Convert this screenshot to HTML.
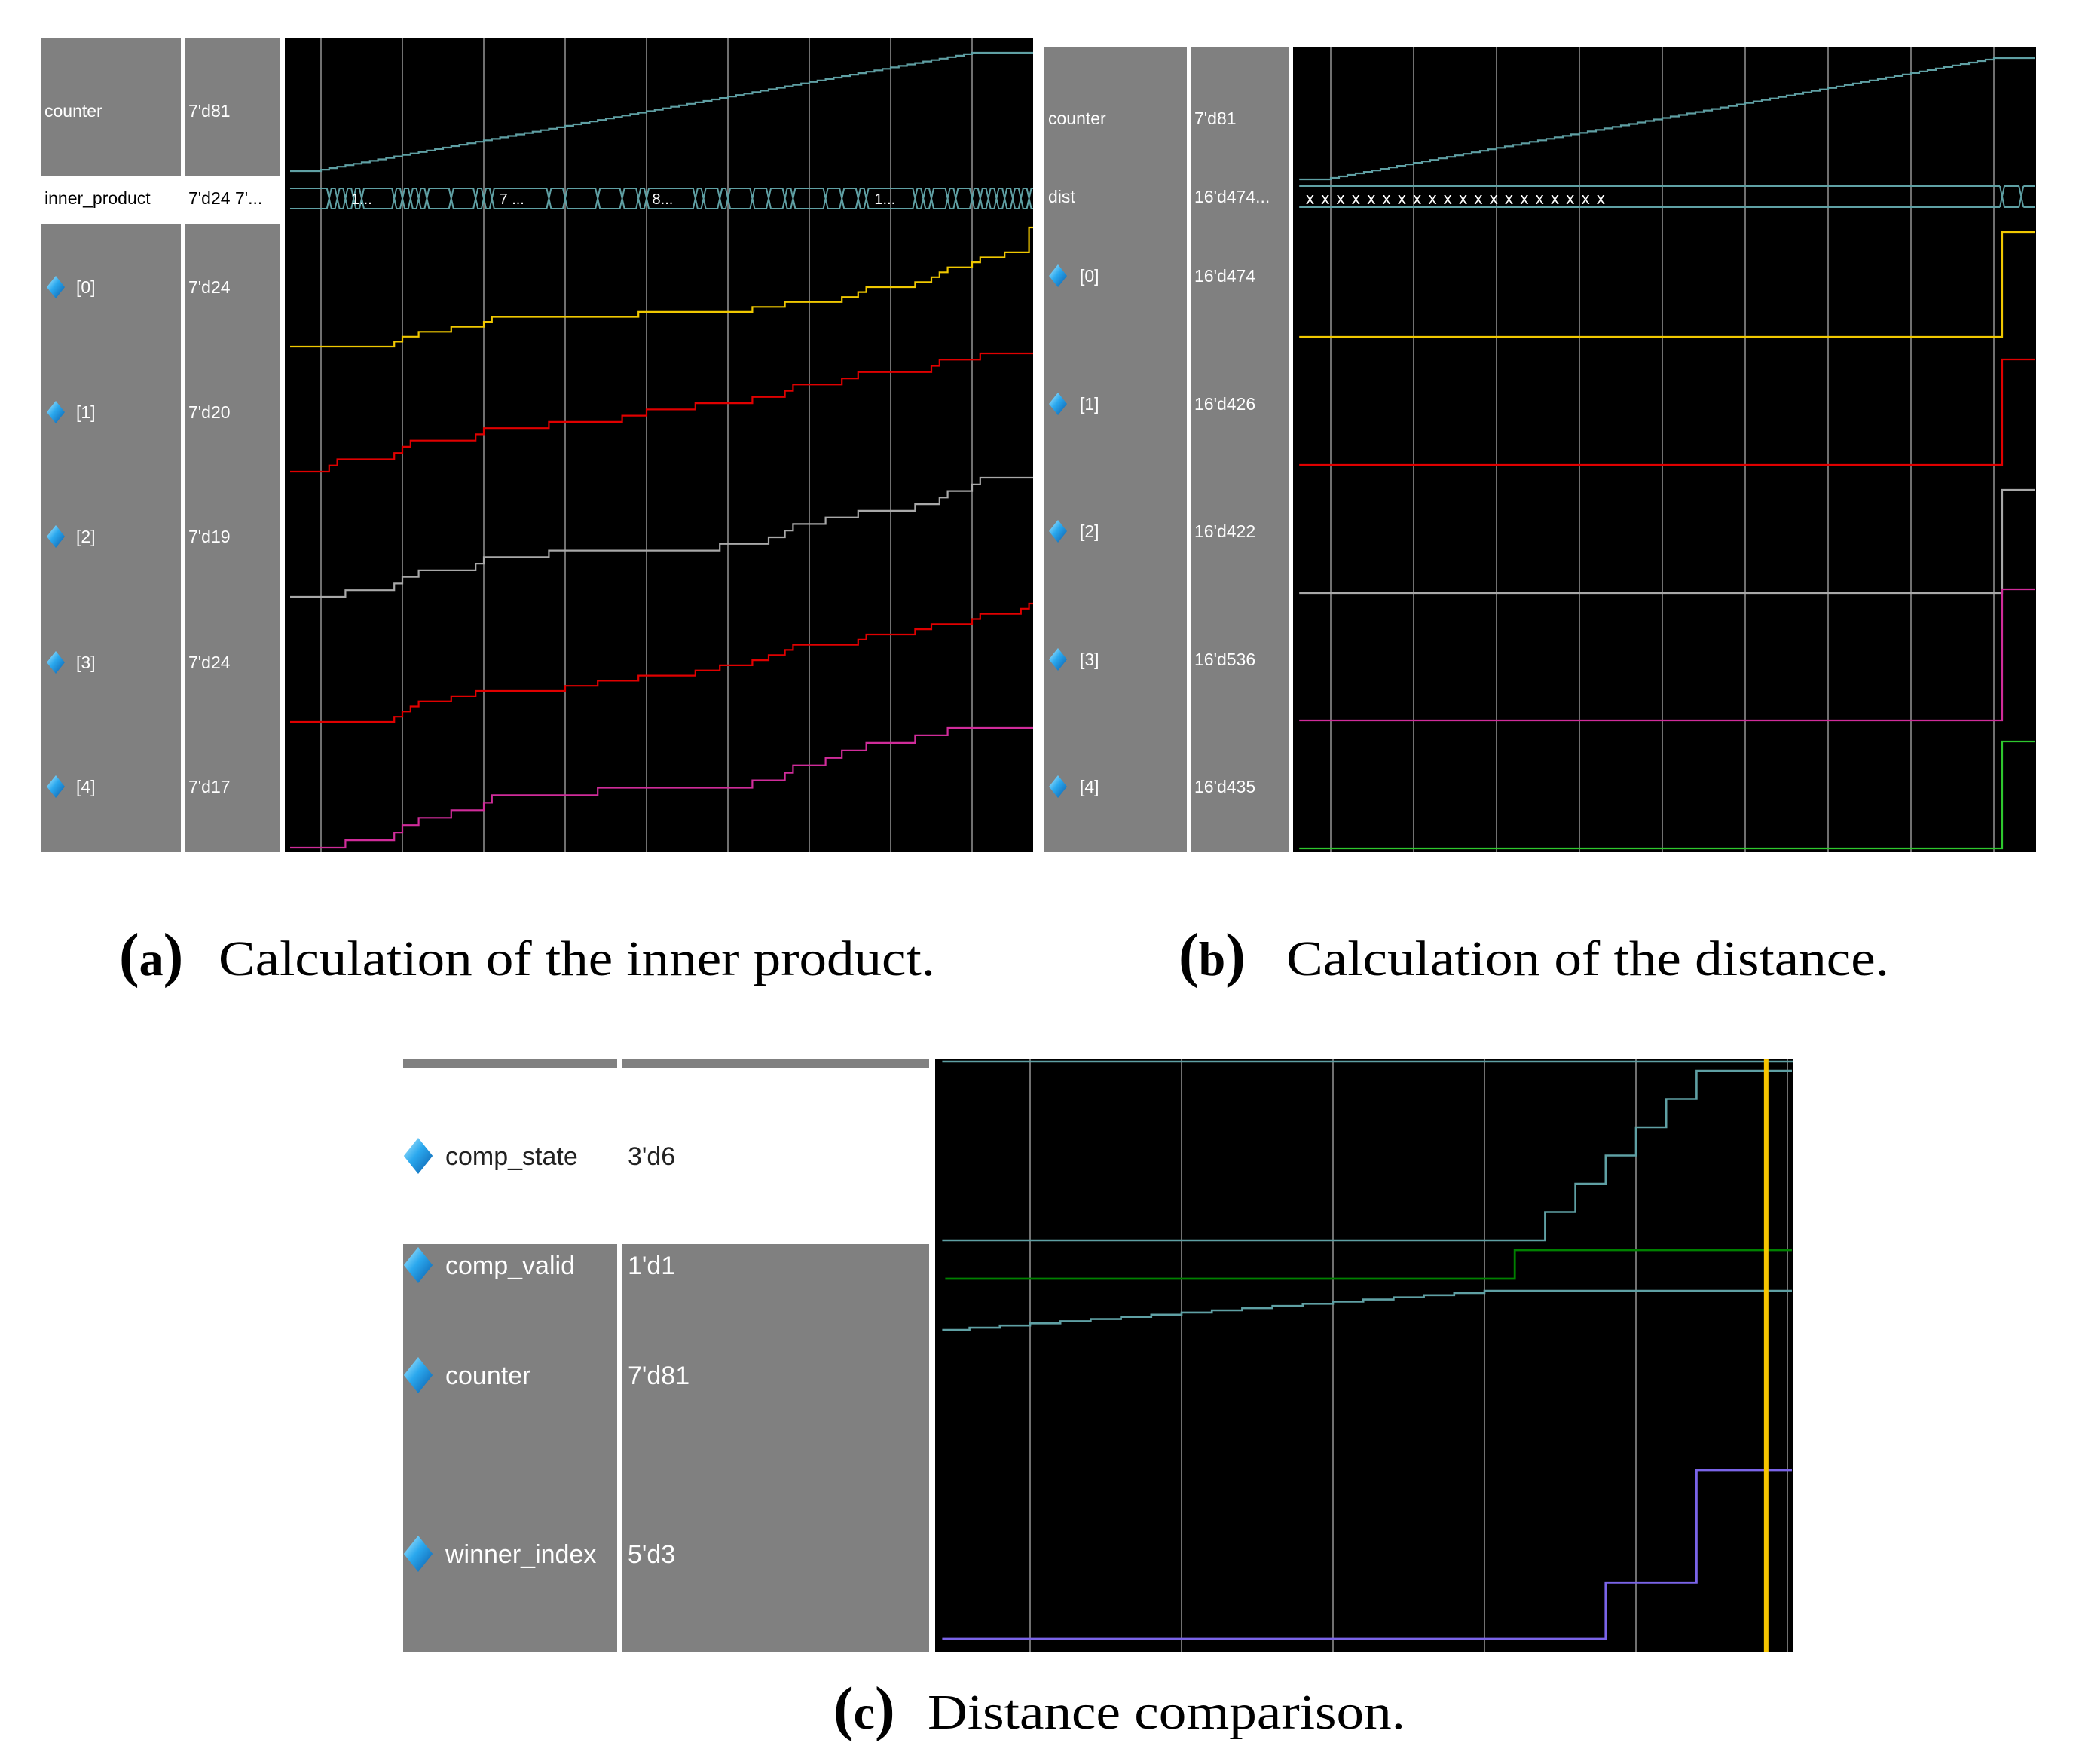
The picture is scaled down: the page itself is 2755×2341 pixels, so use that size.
<!DOCTYPE html>
<html><head><meta charset="utf-8"><title>Waveforms</title>
<style>
html,body{margin:0;padding:0;background:#fff;}
svg{display:block;}
</style></head>
<body>
<svg id="fig" width="2755" height="2341" viewBox="0 0 2755 2341" xmlns="http://www.w3.org/2000/svg" font-family="'Liberation Sans', 'DejaVu Sans', sans-serif">
  <defs>
    <linearGradient id="dia" x1="0" y1="0" x2="1" y2="1">
      <stop offset="0" stop-color="#bff0ff"/>
      <stop offset="0.45" stop-color="#2aa8ee"/>
      <stop offset="1" stop-color="#0a5aa8"/>
    </linearGradient>
  </defs>
  <rect x="54" y="50" width="186" height="1081" fill="#808080"/>
  <rect x="245" y="50" width="126" height="1081" fill="#808080"/>
  <rect x="54" y="233" width="186" height="64" fill="#ffffff"/>
  <rect x="245" y="233" width="126" height="64" fill="#ffffff"/>
  <rect x="378" y="50" width="993" height="1081" fill="#000"/>
  <rect x="1385" y="62" width="190" height="1069" fill="#808080"/>
  <rect x="1581" y="62" width="129" height="1069" fill="#808080"/>
  <rect x="1716" y="62" width="986" height="1069" fill="#000"/>
  <rect x="535" y="1405" width="284" height="788" fill="#808080"/>
  <rect x="826" y="1405" width="407" height="788" fill="#808080"/>
  <rect x="535" y="1418" width="284" height="233" fill="#ffffff"/>
  <rect x="826" y="1418" width="407" height="233" fill="#ffffff"/>
  <rect x="1241" y="1405" width="1138" height="788" fill="#000"/>
  <g id="marks"></g>
  <g id="labels"></g>
  <g font-family="'Liberation Serif', 'DejaVu Serif', serif" fill="#000">
    <text x="158" y="1294" font-size="80" font-weight="bold">(<tspan font-size="64">a</tspan>)</text>
    <text x="290" y="1294" font-size="66" textLength="951" lengthAdjust="spacingAndGlyphs">Calculation of the inner product.</text>
  </g>
  <g font-family="'Liberation Serif', 'DejaVu Serif', serif" fill="#000">
    <text x="1564" y="1294" font-size="80" font-weight="bold">(<tspan font-size="64">b</tspan>)</text>
    <text x="1707" y="1294" font-size="66" textLength="800" lengthAdjust="spacingAndGlyphs">Calculation of the distance.</text>
  </g>
  <g font-family="'Liberation Serif', 'DejaVu Serif', serif" fill="#000">
    <text x="1106" y="2294" font-size="80" font-weight="bold">(<tspan font-size="64">c</tspan>)</text>
    <text x="1231" y="2294" font-size="66" textLength="634" lengthAdjust="spacingAndGlyphs">Distance comparison.</text>
  </g>
</svg>
<script>
const counterTimes = [0,1,2,3,4,5,6,7,8,9,10,11,12,13,14,15,16,17,18,19,20,21,22,23,24,25,26,27,28,29,30,31,32,33,34,35,36,37,38,39,40,41,42,43,44,45,46,47,48,49,50,51,52,53,54,55,56,57,58,59,60,61,62,63,64,65,66,67,68,69,70,71,72,73,74,75,76,77,78,79,80];
const counterVals = [0,1,2,3,4,5,6,7,8,9,10,11,12,13,14,15,16,17,18,19,20,21,22,23,24,25,26,27,28,29,30,31,32,33,34,35,36,37,38,39,40,41,42,43,44,45,46,47,48,49,50,51,52,53,54,55,56,57,58,59,60,61,62,63,64,65,66,67,68,69,70,71,72,73,74,75,76,77,78,79,80,81];
const ip0Times = [9,10,12,16,20,21,39,53,57,64,66,67,73,75,76,77,80,81,84,87];
const ip0Vals = [0,1,2,3,4,5,6,7,8,9,10,11,12,13,14,15,16,17,18,19,24];
const ip1Times = [1,2,9,10,11,19,20,28,37,40,46,53,57,58,64,66,75,76,81];
const ip1Vals = [0,1,2,3,4,5,6,7,8,9,10,11,12,13,14,15,16,17,18,19];
const ip2Times = [3,9,10,12,19,20,28,49,55,57,58,62,66,73,76,77,80,81];
const ip2Vals = [0,1,2,3,4,5,6,7,8,9,10,11,12,13,14,15,16,17,18];
const ip3Times = [9,10,11,12,16,19,30,34,39,46,49,53,55,57,58,66,67,73,75,80,81,86,87];
const ip3Vals = [0,1,2,3,4,5,6,7,8,9,10,11,12,13,14,15,16,17,18,19,20,21,22,23];
const ip4Times = [3,9,10,12,16,20,21,34,53,57,58,62,64,67,73,77];
const ip4Vals = [0,1,2,3,4,5,6,7,8,9,10,11,12,13,14,15,16];
const ipBusTimes = [1,2,3,4,5,9,10,11,12,13,16,19,20,21,28,30,34,37,39,40,46,47,49,50,53,55,57,58,62,64,66,67,73,74,75,77,78,80,81,82,83,84,85,86,87];
const ipBusLabels = ["1...","7 ...","8...","1..."];
const ipBusLabelTimes = [3.7,21.9,40.7,68];
const distTimes = [81];
const dist0Vals = [0,474];
const dist1Vals = [0,426];
const dist2Vals = [0,422];
const dist3Vals = [0,536];
const dist4Vals = [0,435];
const distBusTimes = [81,83.3];
const compStateTimes = [17,18,19,20,21,22];
const compStateVals = [0,1,2,3,4,5,6];
const compValidTimes = [16];
const compValidVals = [0,1];
const cCounterTimes = [-2,-1,0,1,2,3,4,5,6,7,8,9,10,11,12,13,14,15];
const cCounterVals = [63,64,65,66,67,68,69,70,71,72,73,74,75,76,77,78,79,80,81];
const winnerTimes = [19,22];
const winnerVals = [0,1,3];
const cursorTimeC = 24.3;
const gridA = [0,10,20,30,40,50,60,70,80];
const gridB = [0,10,20,30,40,50,60,70,80];
const gridC = [0,5,10,15,20,25];

const xA = t => 426 + 10.8 * t;
const xB = t => 1766 + 11.0 * t;
const xC = t => 1367 + 40.2 * t;
const C_END = 25.15;
function lane(vals, bot, top){
  const mn = Math.min(...vals), mx = Math.max(...vals);
  return v => bot - (mx === mn ? 0 : (v - mn) / (mx - mn)) * (bot - top);
}
const NS = 'http://www.w3.org/2000/svg';
const marks = document.getElementById('marks');
const labels = document.getElementById('labels');
function mk(tag, attrs, parent){
  const e = document.createElementNS(NS, tag);
  for (const k in attrs) e.setAttribute(k, attrs[k]);
  parent.appendChild(e);
  return e;
}
function stepPath(times, vals, xf, yf, t0, t1){
  let d = 'M' + xf(t0).toFixed(1) + ',' + yf(vals[0]).toFixed(1);
  for (let i = 0; i < times.length; i++){
    d += 'H' + xf(times[i]).toFixed(1) + 'V' + yf(vals[i+1]).toFixed(1);
  }
  d += 'H' + xf(t1).toFixed(1);
  return d;
}
function trace(name, times, vals, xf, bot, top, t0, t1, color, w){
  const p = mk('path', {d: stepPath(times, vals, xf, lane(vals, bot, top), t0, t1), fill:'none', stroke:color, 'stroke-width':w||2.2}, marks);
  
  
}
function grid(name, ticks, xf, y1, y2){
  ticks.forEach(t => {
    const l = mk('line', {x1:xf(t), x2:xf(t), y1:y1, y2:y2, stroke:'#8c8c8c', 'stroke-width':1.6}, marks);
    
    
  });
}
function bus(name, times, xf, top, bot, t0, t1, color){
  let d = '';
  let prev = xf(t0);
  const h = 3;
  times.forEach(t => {
    const x = xf(t);
    d += 'M' + prev + ',' + top + 'H' + (x - h) + 'M' + prev + ',' + bot + 'H' + (x - h);
    d += 'M' + (x - h) + ',' + top + 'L' + (x + h) + ',' + bot + 'M' + (x - h) + ',' + bot + 'L' + (x + h) + ',' + top;
    prev = x + h;
  });
  d += 'M' + prev + ',' + top + 'H' + xf(t1) + 'M' + prev + ',' + bot + 'H' + xf(t1);
  const p = mk('path', {d:d, fill:'none', stroke:color, 'stroke-width':2}, marks);
  
  
}
function txt(name, x, y, s, size, color, parent){
  const e = mk('text', {x:x, y:y, 'font-size':size, fill:color}, parent || labels);
  e.textContent = s;
  
  
  return e;
}
function diamond(name, cx, cy, r){
  const p = mk('polygon', {points:`${cx},${cy-r} ${cx+r*0.8},${cy} ${cx},${cy+r} ${cx-r*0.8},${cy}`, fill:'url(#dia)'}, labels);
  
  
}

grid('panel-a-grid-line', gridA, xA, 50, 1131);
trace('panel-a-counter-trace', counterTimes, counterVals, xA, 227, 70, -3.8, 87.5, '#5fa0a4');
bus('panel-a-inner-product-bus', ipBusTimes, xA, 250, 277, -3.8, 87.5, '#5fa0a4');
ipBusLabels.forEach((s, i) => {
  txt('panel-a-bus-label', xA(ipBusLabelTimes[i]), 271, s, 20, '#ffffff', marks);
});
trace('panel-a-trace-0', ip0Times, ip0Vals, xA, 460, 302, -3.8, 87.5, '#f0c800');
trace('panel-a-trace-1', ip1Times, ip1Vals, xA, 626, 469, -3.8, 87.5, '#e00000');
trace('panel-a-trace-2', ip2Times, ip2Vals, xA, 792, 634, -3.8, 87.5, '#a8a8a8');
trace('panel-a-trace-3', ip3Times, ip3Vals, xA, 958, 801, -3.8, 87.5, '#e00000');
trace('panel-a-trace-4', ip4Times, ip4Vals, xA, 1125, 966, -3.8, 87.5, '#d02c9a');
txt('panel-a-name-counter', 59, 155, 'counter', 23, '#fff');
txt('panel-a-value-counter', 250, 155, "7'd81", 23, '#fff');
txt('panel-a-name-inner-product', 59, 271, 'inner_product', 23, '#000');
txt('panel-a-value-inner-product', 250, 271, "7'd24 7'...", 23, '#000');
const aRows = [['[0]',"7'd24",381],['[1]',"7'd20",547],['[2]',"7'd19",712],['[3]',"7'd24",879],['[4]',"7'd17",1044]];
aRows.forEach((r, i) => {
  diamond('panel-a-signal-icon', 74, r[2], 15);
  txt('panel-a-name-' + i, 101, r[2] + 8, r[0], 23, '#fff');
  txt('panel-a-value-' + i, 250, r[2] + 8, r[1], 23, '#fff');
});

grid('panel-b-grid-line', gridB, xB, 62, 1131);
trace('panel-b-counter-trace', counterTimes, counterVals, xB, 238, 77, -3.8, 85, '#5fa0a4');
bus('panel-b-dist-bus', distBusTimes, xB, 247, 275, -3.8, 85, '#5fa0a4');
txt('panel-b-dist-bus-text', 1733, 271, 'x x x x x x x x x x x x x x x x x x x x', 22, '#ffffff', marks).setAttribute('letter-spacing', '1.6');
trace('panel-b-trace-0', distTimes, dist0Vals, xB, 447, 308, -3.8, 85, '#f0c800');
trace('panel-b-trace-1', distTimes, dist1Vals, xB, 617, 477, -3.8, 85, '#e00000');
trace('panel-b-trace-2', distTimes, dist2Vals, xB, 787, 650, -3.8, 85, '#a8a8a8');
trace('panel-b-trace-3', distTimes, dist3Vals, xB, 956, 782, -3.8, 85, '#d02c9a');
trace('panel-b-trace-4', distTimes, dist4Vals, xB, 1126, 984, -3.8, 85, '#2ec82e');
txt('panel-b-name-counter', 1391, 165, 'counter', 23, '#fff');
txt('panel-b-value-counter', 1585, 165, "7'd81", 23, '#fff');
txt('panel-b-name-dist', 1391, 269, 'dist', 23, '#fff');
txt('panel-b-value-dist', 1585, 269, "16'd474...", 23, '#fff');
const bRows = [['[0]',"16'd474",366],['[1]',"16'd426",536],['[2]',"16'd422",705],['[3]',"16'd536",875],['[4]',"16'd435",1044]];
bRows.forEach((r, i) => {
  diamond('panel-b-signal-icon', 1404, r[2], 15);
  txt('panel-b-name-' + i, 1433, r[2] + 8, r[0], 23, '#fff');
  txt('panel-b-value-' + i, 1585, r[2] + 8, r[1], 23, '#fff');
});

grid('panel-c-grid-line', gridC, xC, 1405, 2193);
const topLine = mk('line', {x1:xC(-2.9), x2:2379, y1:1409, y2:1409, stroke:'#5fa0a4', 'stroke-width':2.5}, marks);


trace('panel-c-comp-state-trace', compStateTimes, compStateVals, xC, 1646, 1421, -2.9, C_END, '#5fa0a4', 2.6);
trace('panel-c-comp-valid-trace', compValidTimes, compValidVals, xC, 1697, 1659, -2.8, C_END, '#008000', 2.8);
trace('panel-c-counter-trace', cCounterTimes, cCounterVals, xC, 1765, 1713, -2.9, C_END, '#5fa0a4', 2.6);
trace('panel-c-winner-index-trace', winnerTimes, winnerVals, xC, 2175, 1951, -2.9, C_END, '#7a64e8', 2.8);
const cur = mk('rect', {x:xC(cursorTimeC) - 3, y:1405, width:6, height:788, fill:'#f5c400'}, marks);


const cRows = [['comp_state',"3'd6",1534,'#222'],['comp_valid',"1'd1",1679,'#fff'],['counter',"7'd81",1825,'#fff'],['winner_index',"5'd3",2062,'#fff']];
cRows.forEach((r, i) => {
  diamond('panel-c-signal-icon', 555, r[2], 24);
  txt('panel-c-name-' + r[0].replace('_','-'), 591, r[2] + 12, r[0], 34, r[3]);
  txt('panel-c-value-' + r[0].replace('_','-'), 833, r[2] + 12, r[1], 34, r[3]);
});
</script>
</body></html>
